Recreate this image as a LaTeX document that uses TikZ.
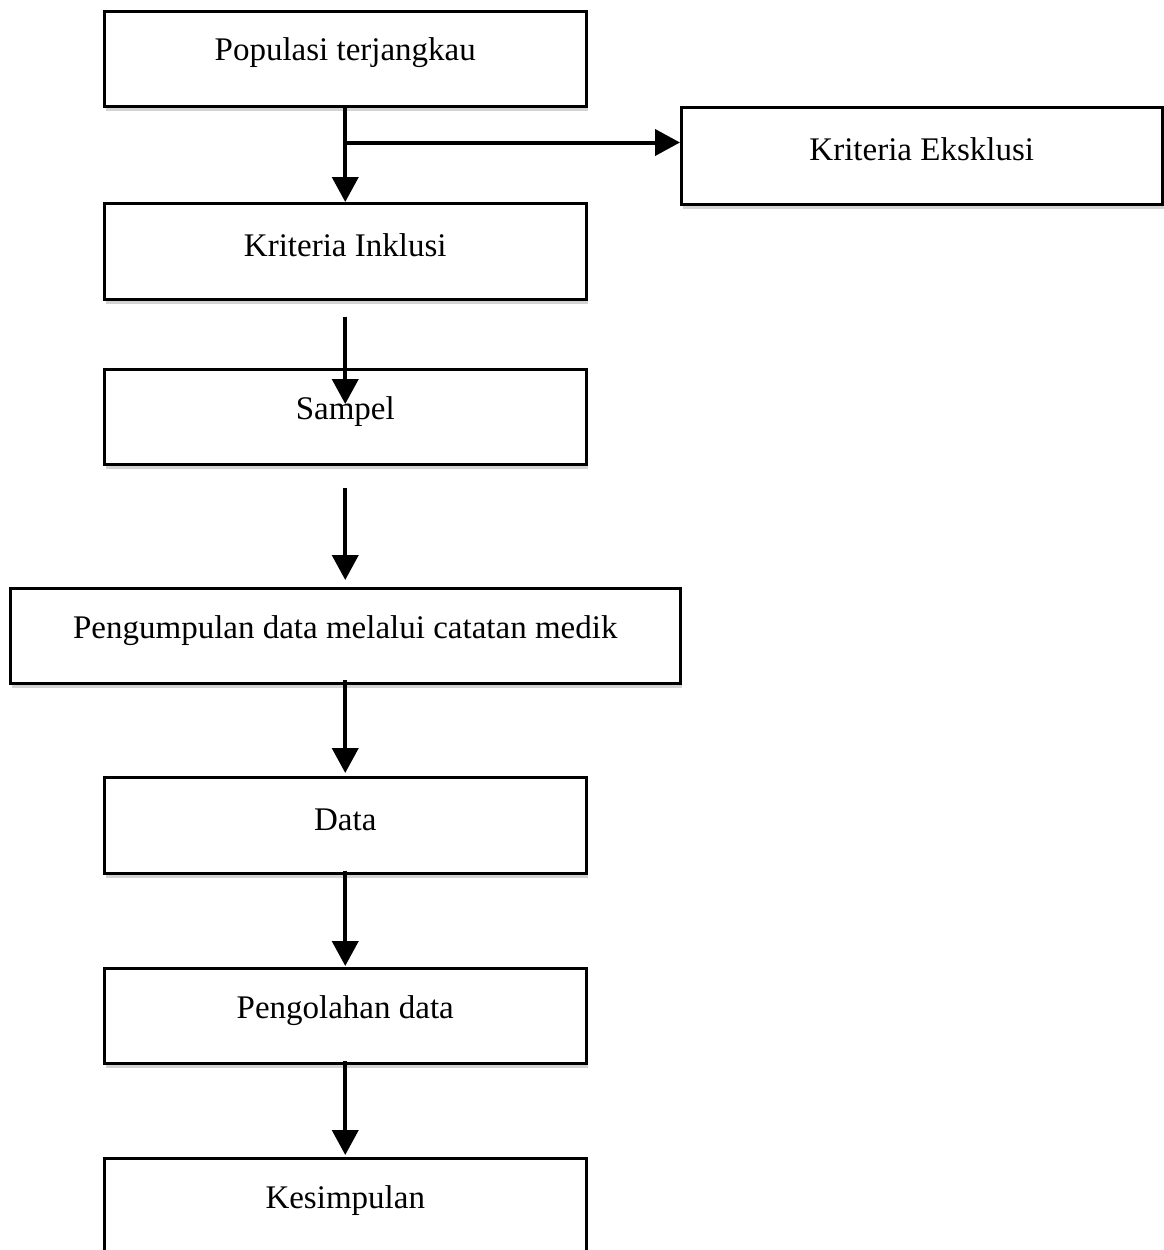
\documentclass[tikz,border=0pt]{standalone}
\usepackage{fontspec}
\setmainfont{Liberation Serif}
\usetikzlibrary{arrows.meta,shadows}
\tikzset{
  box/.style={draw=black, line width=2.5pt, fill=white, rectangle, anchor=north west, inner sep=0pt,
    drop shadow={opacity=0.35, shadow xshift=2pt, shadow yshift=-5pt}},
  lbl/.style={font=\fontsize{33}{38}\selectfont, anchor=center, inner sep=0pt},
  arr/.style={line width=4pt, -{Triangle[length=25pt,width=26pt]}},
  ln/.style={line width=4pt}
}
\begin{document}
\begin{tikzpicture}[x=1pt,y=-1pt]
\useasboundingbox (0,0) rectangle (1164,1250);
\clip (0,0) rectangle (1164,1250);
% boxes
\node[box, minimum width=482pt, minimum height=95pt] (pop) at (103,10) {};
\node[box, minimum width=481pt, minimum height=97pt] (eks) at (680,106) {};
\node[box, minimum width=482pt, minimum height=96pt] (ink) at (103,202) {};
\node[box, minimum width=482pt, minimum height=95pt] (samp) at (103,368) {};
\node[box, minimum width=670pt, minimum height=95pt] (peng) at (9,587) {};
\node[box, minimum width=482pt, minimum height=96pt] (data) at (103,776) {};
\node[box, minimum width=482pt, minimum height=95pt] (olah) at (103,967) {};
\node[box, minimum width=482pt, minimum height=110pt] (kes) at (103,1157) {};
% labels
\node[lbl] (tpop) at ([yshift=-43pt]pop.north) {Populasi terjangkau};
\node[lbl] (teks) at ([yshift=-43pt]eks.north) {Kriteria Eksklusi};
\node[lbl] (tink) at ([yshift=-43pt]ink.north) {Kriteria Inklusi};
\node[lbl] (tsamp) at ([yshift=-44pt]samp.north) {Sampel};
\node[lbl] (tpeng) at ([yshift=-44pt]peng.north) {Pengumpulan data melalui catatan medik};
\node[lbl] (tdata) at ([yshift=-44pt]data.north) {Data};
\node[lbl] (tolah) at ([yshift=-44pt]olah.north) {Pengolahan data};
\node[lbl] (tkes) at ([yshift=-44pt]kes.north) {Kesimpulan};
% connectors
\coordinate (br) at ([yshift=-35pt]pop.south);
\draw[arr] (pop.south) -- (ink.north);
\draw[arr] (br) -- (br -| eks.west);
\draw[arr] ([yshift=-16pt]ink.south) -- ([yshift=-36pt]samp.north);
\draw[arr] ([yshift=-22pt]samp.south) -- ([yshift=7pt]peng.north);
\draw[arr] ([yshift=5pt]peng.south) -- ([yshift=3pt]data.north);
\draw[arr] ([yshift=4pt]data.south) -- ([yshift=1pt]olah.north);
\draw[arr] ([yshift=4pt]olah.south) -- ([yshift=2pt]kes.north);
\end{tikzpicture}
\end{document}
